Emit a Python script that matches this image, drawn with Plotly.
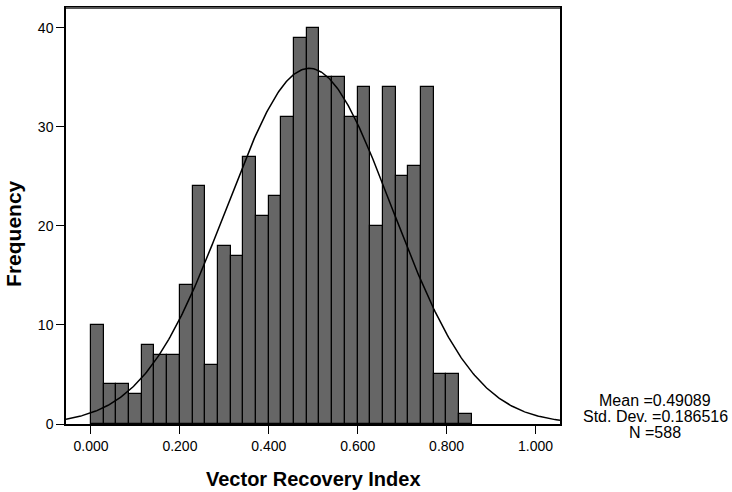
import numpy as np
import plotly.graph_objects as go

# ---- data ----
counts = [10, 4, 4, 3, 8, 7, 7, 14, 24, 6, 18, 17, 27, 21, 23, 31, 39, 40,
          35, 35, 31, 34, 20, 34, 25, 26, 34, 5, 5, 1]
bin_start = 0.0
bin_width = 0.02855
mean_val = 0.49089
std_val = 0.186516
n_val = 588
x_ticks = [0.0, 0.2, 0.4, 0.6, 0.8, 1.0]
x_tick_labels = ["0.000", "0.200", "0.400", "0.600", "0.800", "1.000"]
y_ticks = [0, 10, 20, 30, 40]
stats_lines = [f"Mean ={mean_val}", f"Std. Dev. ={std_val}", f"N ={n_val}"]

x_range = [-0.0562, 1.055]
y_range = [0, 42]

centers = [bin_start + bin_width * (i + 0.5) for i in range(len(counts))]

xc = np.linspace(x_range[0], x_range[1], 400)
yc = n_val * bin_width / (std_val * np.sqrt(2 * np.pi)) * np.exp(-0.5 * ((xc - mean_val) / std_val) ** 2)

FONT = "Liberation Sans, Arial, sans-serif"

fig = go.Figure()
fig.add_trace(go.Bar(
    x=centers, y=counts, width=bin_width,
    marker=dict(color="#666666", line=dict(color="black", width=1.2)),
    hoverinfo="skip"))
fig.add_trace(go.Scatter(
    x=xc, y=yc, mode="lines",
    line=dict(color="black", width=1.5), hoverinfo="skip"))

fig.update_layout(
    width=732, height=492,
    margin=dict(l=66, r=172, t=6, b=68),
    paper_bgcolor="white", plot_bgcolor="white",
    showlegend=False, bargap=0,
    font=dict(family=FONT, color="black", size=14),
    xaxis=dict(range=x_range, tickvals=x_ticks, ticktext=x_tick_labels,
               ticks="outside", ticklen=8, tickwidth=1.2, tickcolor="black",
               showline=True, linecolor="black", linewidth=1.5, mirror=True,
               showgrid=False, zeroline=False, tickfont=dict(size=14)),
    yaxis=dict(range=y_range, tickvals=y_ticks,
               ticks="outside", ticklen=8, tickwidth=1.2, tickcolor="black",
               showline=True, linecolor="black", linewidth=1.5, mirror=True,
               showgrid=False, zeroline=False, tickfont=dict(size=14)),
)

# gray top border
fig.add_shape(type="line", xref="paper", yref="paper", x0=0, x1=1, y0=1, y1=1,
              line=dict(color="#555555", width=2))

# axis titles
fig.add_annotation(text="<b>Vector Recovery Index</b>", xref="paper", yref="paper",
                   x=0.5, y=-55 / 418, yanchor="middle", xanchor="center",
                   showarrow=False, font=dict(size=20, family=FONT))
fig.add_annotation(text="<b>Frequency</b>", xref="paper", yref="paper",
                   x=-52 / 494, y=(424 - 233) / 418, textangle=-90,
                   xanchor="center", yanchor="middle",
                   showarrow=False, font=dict(size=21, family=FONT))

# stats text, one line each
for i, line in enumerate(stats_lines):
    fig.add_annotation(text=line, xref="paper", yref="paper",
                       x=(655 - 66) / 494, y=(424 - (400 + 16.5 * i)) / 418,
                       xanchor="center", yanchor="middle", align="center",
                       showarrow=False, font=dict(size=16, family=FONT))

fig.write_html("out.html")
